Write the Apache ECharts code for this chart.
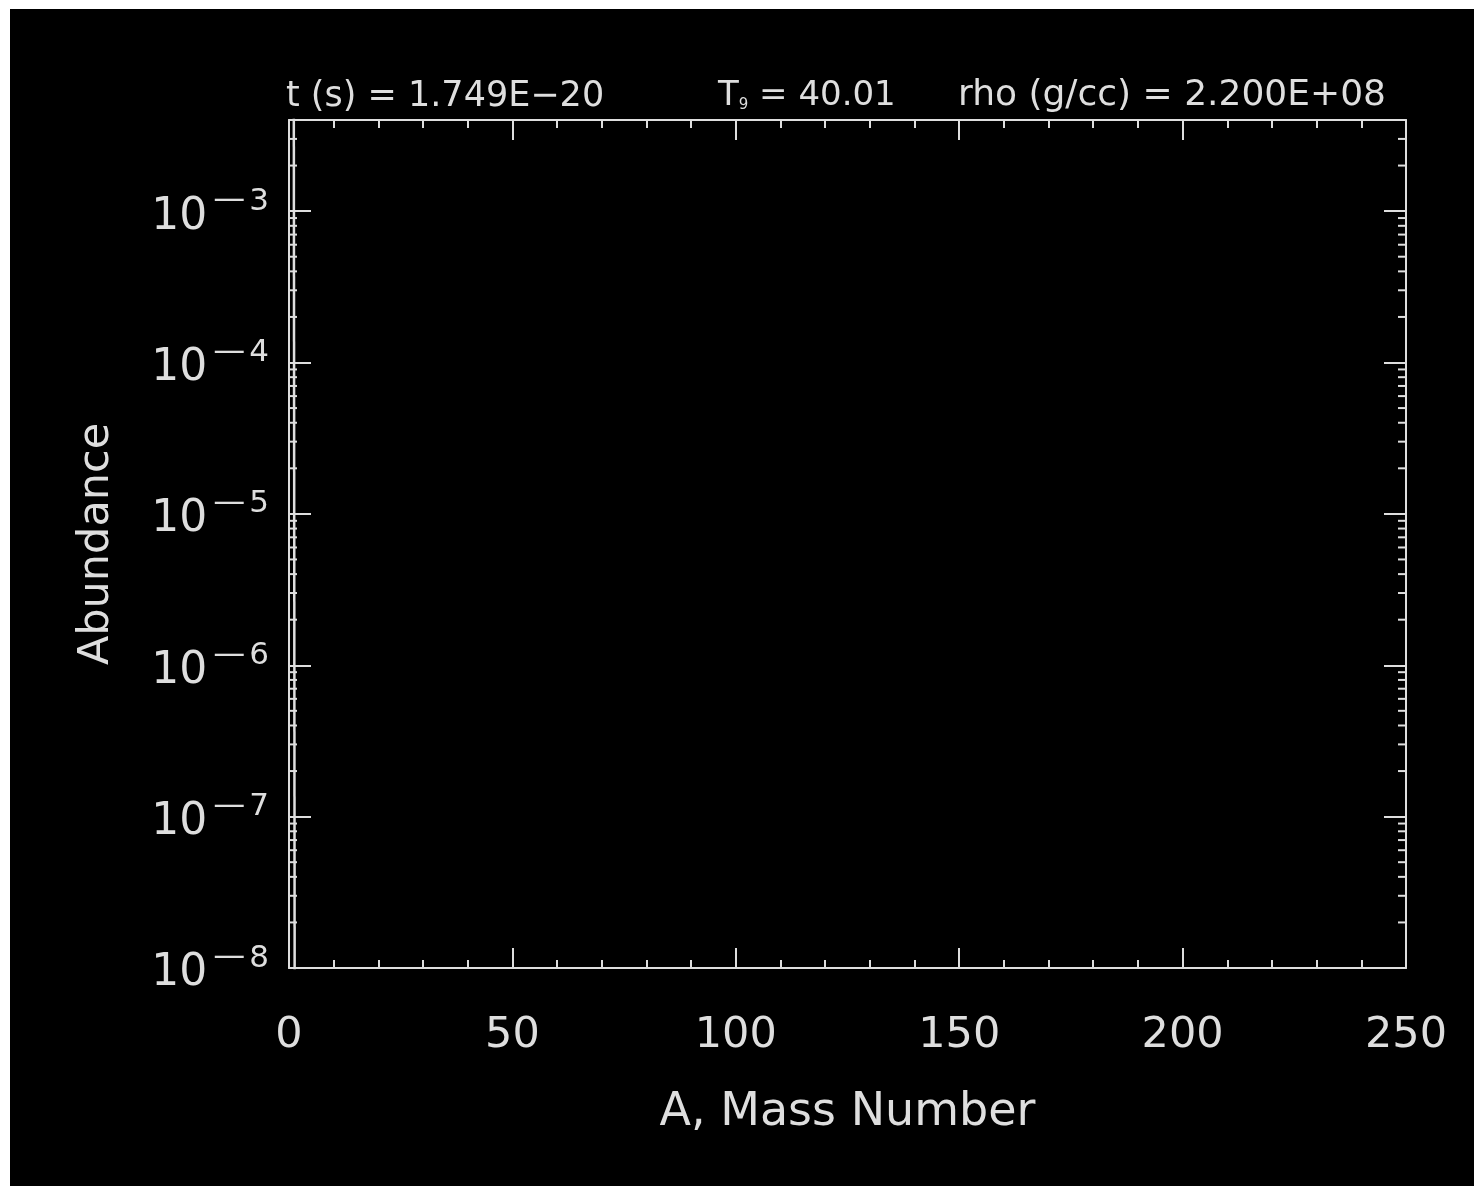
<!DOCTYPE html>
<html>
<head>
<meta charset="utf-8">
<script src="https://cdn.jsdelivr.net/npm/echarts@6/dist/echarts.min.js"></script>
<style>
  html, body { margin: 0; padding: 0; background: #ffffff; }
  #chart { position: absolute; left: 10px; top: 9px; width: 1464px; height: 1177px; background: #000000; }
</style>
</head>
<body>
<div id="chart"></div>
<script>
// mass number / abundance of the one visible trace (A=1 off the top, A=2 far below the bottom)
var massNumber = [1, 2];
var abundance = [0.9, 1e-30];

// run parameters shown over the plot
var timeLabel = 't (s) = 1.749E\u221220';
var tempValue = '40.01';
var rhoLabel = 'rho (g/cc) = 2.200E+08';

// axis ranges
var xMin = 0, xMax = 250, xStep = 50;
var yMin = 1e-8, yMax = 4e-3;

// minor log ticks 2..9 x 10^n
var minorTickValues = [];
for (var e = -8; e <= -3; e++) {
  for (var m = 2; m <= 9; m++) {
    var v = m * Math.pow(10, e);
    if (v < yMax) minorTickValues.push([0, v]);
  }
}

var fg = '#dedede';
var font = 'DejaVu Sans';

var chart = echarts.init(document.getElementById('chart'));

function xAxisBase(pos, showLabel) {
  return {
    type: 'value',
    position: pos,
    min: xMin,
    max: xMax,
    interval: xStep,
    axisLine: { show: true, onZero: false, lineStyle: { color: fg, width: 2 } },
    axisTick: { show: true, inside: true, length: 20, lineStyle: { color: fg, width: 2 } },
    minorTick: { show: true, splitNumber: 5, length: 8, lineStyle: { color: fg, width: 2 } },
    splitLine: { show: false },
    axisLabel: {
      show: showLabel,
      color: fg,
      fontFamily: font,
      fontSize: 43,
      margin: 46
    }
  };
}

function yAxisBase(pos, showLabel) {
  return {
    type: 'log',
    logBase: 10,
    position: pos,
    min: yMin,
    max: yMax,
    interval: 1,
    axisLine: { show: true, onZero: false, lineStyle: { color: fg, width: 2 } },
    axisTick: { show: true, inside: true, length: 22, lineStyle: { color: fg, width: 2 } },
    splitLine: { show: false },
    axisLabel: {
      show: showLabel,
      showMaxLabel: false,
      margin: 20,
      padding: [8, 0, 0, 0],
      formatter: function (val) {
        var ex = Math.round(Math.log10(val));
        return '{b|10}{d|\u2014}{e|' + Math.abs(ex) + '}';
      },
      rich: {
        b: { color: fg, fontFamily: font, fontSize: 44, lineHeight: 48, padding: [0, 6, 0, 0], verticalAlign: 'bottom' },
        d: { color: fg, fontFamily: font, fontSize: 32, lineHeight: 48, padding: [0, 4, 22, 0], verticalAlign: 'bottom' },
        e: { color: fg, fontFamily: font, fontSize: 31, lineHeight: 48, padding: [0, 0, 22, 0], verticalAlign: 'bottom' }
      }
    }
  };
}

var xBottom = xAxisBase('bottom', true);
xBottom.name = 'A, Mass Number';
xBottom.nameLocation = 'middle';
xBottom.nameGap = 122;
xBottom.nameTextStyle = { color: fg, fontFamily: font, fontSize: 46 };

var yLeft = yAxisBase('left', true);
yLeft.name = 'Abundance';
yLeft.nameLocation = 'middle';
yLeft.nameRotate = 90;
yLeft.nameGap = 171;
yLeft.nameTextStyle = { color: fg, fontFamily: font, fontSize: 43 };

var option = {
  backgroundColor: '#000000',
  animation: false,
  grid: { left: 279, top: 111, width: 1117, height: 848 },
  graphic: [
    { type: 'text', left: 276, top: 70,
      style: { text: timeLabel, fill: fg, font: '35px ' + font } },
    { type: 'text', left: 708, top: 70,
      style: {
        text: '{a|T}{s|9}{a| = ' + tempValue + '}',
        rich: {
          a: { fill: fg, fontFamily: font, fontSize: 34, lineHeight: 34, padding: [0, 0, 6, 0], verticalAlign: 'top' },
          s: { fill: fg, fontFamily: font, fontSize: 15, lineHeight: 15, verticalAlign: 'bottom' }
        }
      } },
    { type: 'text', left: 948, top: 69,
      style: { text: rhoLabel, fill: fg, font: '36px ' + font } }
  ],
  xAxis: [xBottom, xAxisBase('top', false)],
  yAxis: [yLeft, yAxisBase('right', false)],
  series: [
    {
      type: 'line',
      data: massNumber.map(function (a, i) { return [a, abundance[i]]; }),
      showSymbol: false,
      clip: true,
      lineStyle: { color: fg, width: 2.5 }
    },
    {
      type: 'custom',
      data: minorTickValues,
      renderItem: function (params, api) {
        var y = api.value(1);
        var p = api.coord([xMin, y]);
        var q = api.coord([xMax, y]);
        return {
          type: 'group',
          children: [
            { type: 'line', shape: { x1: p[0], y1: p[1], x2: p[0] + 8, y2: p[1] }, style: { stroke: fg, lineWidth: 2 } },
            { type: 'line', shape: { x1: q[0] - 8, y1: q[1], x2: q[0], y2: q[1] }, style: { stroke: fg, lineWidth: 2 } }
          ]
        };
      }
    }
  ]
};

chart.setOption(option);
</script>
</body>
</html>
